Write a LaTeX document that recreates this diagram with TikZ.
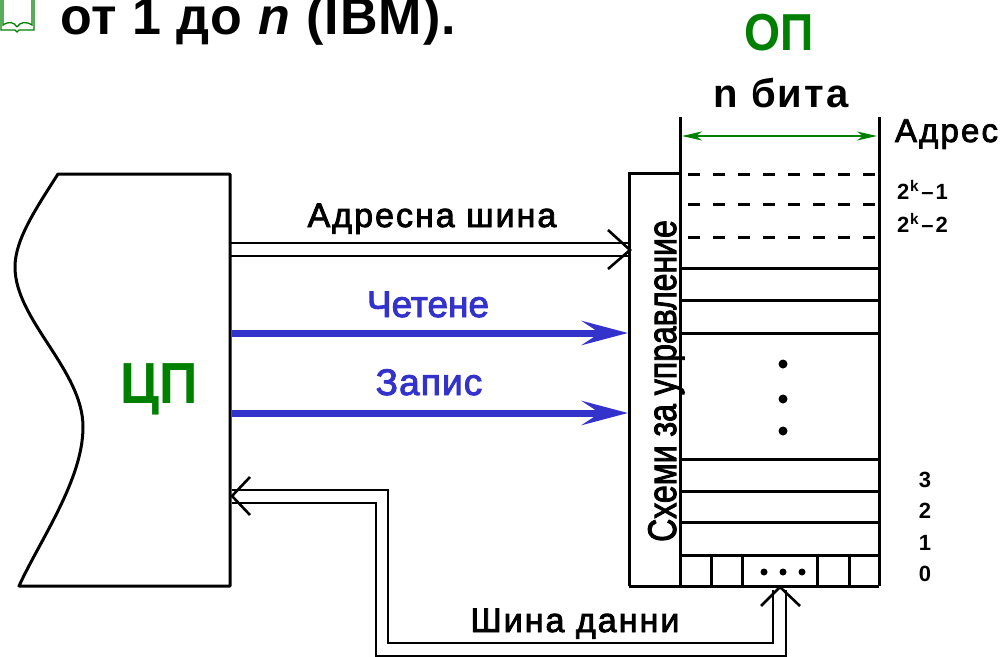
\documentclass[tikz,border=0pt]{standalone}
\usepackage{fontspec}
\setmainfont{Liberation Sans}
\newfontfamily\medf[FakeBold=2.5]{Liberation Sans}
\usetikzlibrary{arrows.meta}
\definecolor{opgreen}{RGB}{0,128,0}
\definecolor{ctlblue}{RGB}{51,51,204}
\newcommand{\fsz}[1]{\fontsize{#1}{#1}\selectfont}
\newcommand{\hsq}[2]{\scalebox{#1}[1]{#2}}
\newcommand{\ttx}[3]{{\medf\fsz{#1}\addfontfeatures{LetterSpace=#2}#3}}
\newcommand{\bttx}[3]{{\fsz{#1}\bfseries\addfontfeatures{LetterSpace=#2}#3}}
\begin{document}
\begin{tikzpicture}[x=1pt,y=-1pt,
  frame/.style={line width=3pt, line join=miter},
  wire/.style={line width=2.6pt, line join=miter},
  lbl/.style={anchor=base, inner sep=0pt, outer sep=0pt},
  ctl/.style={line width=7pt, draw=ctlblue, -{Stealth[length=46pt,width=24pt,inset=18pt]}},
  dashrow/.style={line width=3pt, dash pattern=on 12pt off 13pt},
  dot/.style={circle, fill=black, inner sep=0pt}]
\useasboundingbox (0,0) rectangle (1003,656);
% title with book icon
\begin{scope}[draw=opgreen, line width=1.3pt]
  \draw (1,-2) -- (1,30) -- (15,30) -- (17,32) -- (19,30) -- (34,30) -- (34,-2);
  \draw (3,-2) -- (3,25) .. controls (9,21) and (14,22) .. (17,27);
  \draw (32,-2) -- (32,25) .. controls (26,21) and (20,22) .. (17,27);
\end{scope}
\node[lbl, anchor=base west] (title) at (60,34) {\fsz{52}\bfseries\addfontfeatures{LetterSpace=2}от 1 до \textit{n} (IBM).};
% CPU
\draw[frame, line join=round] (58,174) .. controls (35,210) and (15,240) .. (15,267)
  .. controls (15,320) and (83,370) .. (83,427)
  .. controls (83,480) and (40,540) .. (19,586) -- (230,586) -- (230,174) -- cycle;
\node[lbl, text=opgreen] (cpu) at (159,403) {\hsq{0.92}{\fsz{58}\bfseries ЦП}};
% memory and control block
\node[lbl, text=opgreen] (op) at (779,50) {\hsq{0.89}{\fsz{52}\bfseries ОП}};
\node[lbl] (nbits) at (781,107) {\bttx{40}{5}{n бита}};
\draw[frame] (629,586) -- (629,173) -- (680,173);
\draw[frame] (680,117) -- (680,586);
\draw[frame] (879,117) -- (879,586);
\draw[frame] (629,586) -- (879,586);
\coordinate (wl) at (682,136);
\coordinate (wr) at (877,136);
\draw[line width=2pt, draw=opgreen, {Stealth[length=20pt,width=9pt,inset=6pt]}-{Stealth[length=20pt,width=9pt,inset=6pt]}] (wl) -- (wr);
\foreach \y in {174,204,237} \draw[dashrow] (688,\y) -- (879,\y);
\foreach \y in {268,300,333,459,491,522,555} \draw[frame] (680,\y) -- (879,\y);
\foreach \x in {711,742,817,849} \draw[frame] (\x,555) -- (\x,586);
\foreach \y [count=\i] in {364,399,431} \node[dot, minimum size=9pt] (vd\i) at (783,\y) {};
\foreach \x [count=\i] in {764,783,802} \node[dot, minimum size=7pt] (hd\i) at (\x,572) {};
\node[lbl, rotate=90] (ctrl) at (676,381) {\hsq{0.8}{\medf\fsz{40}Схеми за управление}};
% address labels
\node[lbl, anchor=base west] (adr) at (895,142) {\ttx{33}{6.5}{Адрес}};
\node[lbl, anchor=base west] (a1) at (897,199) {{\fsz{22}\bfseries 2\kern1pt\textsuperscript{k}\kern2pt–\kern2pt1}};
\node[lbl, anchor=base west] (a2) at (897,232) {{\fsz{22}\bfseries 2\kern1pt\textsuperscript{k}\kern2pt–\kern2pt2}};
\node[lbl] (r3) at (925,487) {\bttx{22}{0}{3}};
\node[lbl] (r2) at (925,518) {\bttx{22}{0}{2}};
\node[lbl] (r1) at (925,550) {\bttx{22}{0}{1}};
\node[lbl] (r0) at (925,581) {\bttx{22}{0}{0}};
% address bus
\coordinate (ab1s) at (230,243); \coordinate (ab1e) at (628,243);
\coordinate (ab2s) at (230,256); \coordinate (ab2e) at (628,256);
\draw[wire] (ab1s) -- (ab1e);
\draw[wire] (ab2s) -- (ab2e);
\draw[wire] (608,230) -- (630,250) -- (608,269);
\node[lbl] (abl) at (432,227) {\ttx{34}{6}{Адресна шина}};
% control lines
\coordinate (rds) at (232,333); \coordinate (rde) at (628,333);
\coordinate (wrs) at (232,413); \coordinate (wre) at (628,413);
\draw[ctl] (rds) -- (rde);
\draw[ctl] (wrs) -- (wre);
\node[lbl, text=ctlblue] (rdl) at (428,317) {\ttx{37}{0}{Четене}};
\node[lbl, text=ctlblue] (wrl) at (429,395) {\ttx{37}{3}{Запис}};
% data bus
\coordinate (db1) at (232,490); \coordinate (db2) at (232,503);
\coordinate (dm1) at (773,590); \coordinate (dm2) at (786,590);
\draw[wire] (db1) -- (388,490) -- (388,643) -- (773,643) -- (dm1);
\draw[wire] (db2) -- (376,503) -- (376,656) -- (786,656) -- (dm2);
\draw[wire] (250,477) -- (232,496) -- (250,515);
\draw[wire] (761,606) -- (780,587) -- (800,606);
\node[lbl] (dbl) at (575,632) {\ttx{34}{6}{Шина данни}};
\end{tikzpicture}
\end{document}
